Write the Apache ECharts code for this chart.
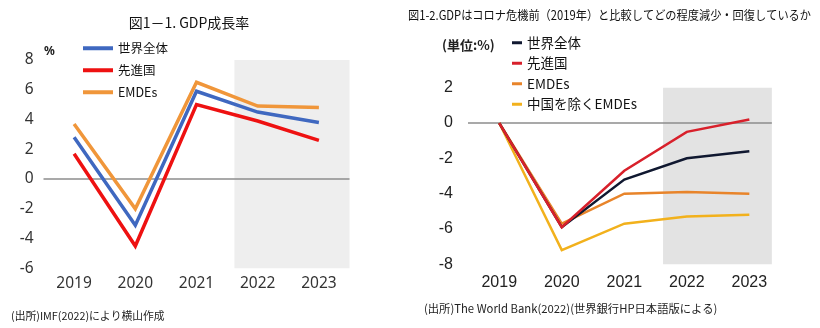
<!DOCTYPE html>
<html>
<head>
<meta charset="utf-8">
<script src="https://cdn.jsdelivr.net/npm/echarts@6/dist/echarts.min.js"></script>
<style>
  html, body { margin: 0; padding: 0; background: #fff; }
  #chart { width: 820px; height: 328px; }
</style>
</head>
<body>
<div id="chart"></div>
<script>
// ---- data ----
const years = ['2019', '2020', '2021', '2022', '2023'];

// 図1-1: GDP growth rate (%)
const growthWorld = [2.8, -3.1, 5.9, 4.5, 3.8];
const growthAdvanced = [1.7, -4.5, 5.0, 3.9, 2.6];
const growthEmdes = [3.7, -2.0, 6.5, 4.9, 4.8];

// 図1-2: GDP relative to 2019 (%)
const levelWorld = [0, -5.9, -3.2, -2.0, -1.6];
const levelAdvanced = [0, -5.9, -2.7, -0.5, 0.2];
const levelEmdes = [0, -5.7, -4.0, -3.9, -4.0];
const levelEmdesExChina = [0, -7.2, -5.7, -5.3, -5.2];

// forecast period shading, in year-index units along the x axis
const forecastStart = 2.62;
const leftForecastEnd = 4.5;
const rightForecastEnd = 4.36;

const leftNames = ['世界全体', '先進国', 'EMDEs'];
const leftColors = ['#3f68c0', '#ee1111', '#f0963a'];
const rightNames = ['世界全体', '先進国', 'EMDEs', '中国を除くEMDEs'];
const rightColors = ['#101830', '#d8202b', '#e8842a', '#f2b11c'];

const rightTitle = '図1-2.GDPはコロナ危機前（2019年）と比較してどの程度減少・回復しているか';

const chart = echarts.init(document.getElementById('chart'), null, { renderer: 'canvas' });

const latin = '"Noto Sans", "Noto Sans CJK JP", sans-serif';
const arial = '"Liberation Sans", Arial, "Noto Sans CJK JP", sans-serif';
const jp = '"Noto Sans CJK JP", sans-serif';

// horizontal squeeze so a long heading fits its column
function fitScale(text, font, targetWidth) {
  const ctx = document.createElement('canvas').getContext('2d');
  ctx.font = font;
  const w = ctx.measureText(text).width;
  return w > targetWidth ? targetWidth / w : 1;
}
const rightTitleFont = '12.5px "Noto Sans CJK JP", sans-serif';
const rightTitleScale = fitScale(rightTitle, rightTitleFont, 403);

function lineSeries(name, data, color, width, xi, yi) {
  return {
    type: 'line', name, data, xAxisIndex: xi, yAxisIndex: yi,
    symbol: 'none', lineStyle: { color, width, join: 'miter' }, itemStyle: { color },
    z: 3, silent: true, animation: false
  };
}

// helper series on the hidden value axis: forecast shade + zero line
function backdrop(xi, yi, endX, shadeColor) {
  return {
    type: 'line', name: '_bg' + xi, data: [], xAxisIndex: xi, yAxisIndex: yi,
    silent: true, animation: false,
    markArea: {
      silent: true, itemStyle: { color: shadeColor }, z: 1,
      data: [[{ xAxis: forecastStart }, { xAxis: endX }]]
    },
    markLine: {
      silent: true, symbol: 'none', z: 2, label: { show: false },
      lineStyle: { color: '#8c8c8c', width: 1.5, type: 'solid' },
      data: [[{ coord: [-0.5, 0] }, { coord: [endX, 0] }]]
    }
  };
}

const option = {
  animation: false,
  backgroundColor: '#fff',
  textStyle: { fontFamily: jp },
  title: [
    { text: '図1－1. GDP成長率', left: 184, top: 11, textAlign: 'center',
      textStyle: { fontFamily: jp, fontSize: 14, fontWeight: 'normal', color: '#111' } },
    { text: '%', left: 39, top: 41,
      textStyle: { fontFamily: latin, fontSize: 12, fontWeight: 'bold', color: '#222' } },
    { text: '(単位:%)', left: 437, top: 34,
      textStyle: { fontFamily: jp, fontSize: 13, fontWeight: 'bold', color: '#222' } },
    { text: '(出所)IMF(2022)により横山作成', left: 6, top: 306,
      textStyle: { fontFamily: jp, fontSize: 10.8, fontWeight: 'normal', color: '#222' } },
    { text: '(出所)The World Bank(2022)(世界銀行HP日本語版による)', left: 419, top: 298,
      textStyle: { fontFamily: jp, fontSize: 11.3, fontWeight: 'normal', color: '#222' } }
  ],
  graphic: [
    { type: 'text', x: 408, y: 9, scaleX: rightTitleScale, silent: true,
      style: { text: rightTitle, font: rightTitleFont, fill: '#111' } }
  ],
  legend: [
    {
      orient: 'vertical', left: 78, top: 37, itemGap: 9.5, itemWidth: 30, itemHeight: 4,
      icon: 'rect', selectedMode: false,
      textStyle: { fontFamily: jp, fontSize: 12.5, color: '#111' },
      data: leftNames.map((n, i) => ({ name: n, itemStyle: { color: leftColors[i] } }))
    },
    {
      orient: 'vertical', left: 507, top: 31, itemGap: 7, itemWidth: 10, itemHeight: 3,
      icon: 'rect', selectedMode: false,
      textStyle: { fontFamily: jp, fontSize: 13.5, color: '#111' },
      data: rightNames.map((n, i) => ({ name: n, itemStyle: { color: rightColors[i] } }))
    }
  ],
  grid: [
    { left: 43.5, top: 60, width: 306, height: 208.3, containLabel: false },
    { left: 468, top: 87.7, width: 312.6, height: 176.6, containLabel: false }
  ],
  xAxis: [
    { type: 'category', gridIndex: 0, data: years, boundaryGap: true,
      axisLine: { show: false }, axisTick: { show: false },
      axisLabel: { margin: 8, fontFamily: latin, fontSize: 15.5, color: '#333' } },
    { type: 'category', gridIndex: 1, data: years, boundaryGap: true,
      axisLine: { show: false }, axisTick: { show: false },
      axisLabel: { margin: 10, fontFamily: arial, fontSize: 16, color: '#222' } },
    { type: 'value', gridIndex: 0, min: -0.5, max: 4.5, show: false },
    { type: 'value', gridIndex: 1, min: -0.5, max: 4.5, show: false }
  ],
  yAxis: [
    { type: 'value', gridIndex: 0, min: -6, max: 8, interval: 2,
      splitLine: { show: false }, axisLine: { show: false }, axisTick: { show: false },
      axisLabel: { margin: 10, fontFamily: latin, fontSize: 15.5, color: '#333' } },
    { type: 'value', gridIndex: 1, min: -8, max: 2, interval: 2,
      splitLine: { show: false }, axisLine: { show: false }, axisTick: { show: false },
      axisLabel: { margin: 15, fontFamily: arial, fontSize: 16, color: '#222' } }
  ],
  series: [
    backdrop(2, 0, leftForecastEnd, '#eeeeee'),
    backdrop(3, 1, rightForecastEnd, '#e3e3e3'),
    lineSeries(leftNames[2], growthEmdes, leftColors[2], 3.5, 0, 0),
    lineSeries(leftNames[0], growthWorld, leftColors[0], 3.5, 0, 0),
    lineSeries(leftNames[1], growthAdvanced, leftColors[1], 3.5, 0, 0),
    lineSeries(rightNames[3], levelEmdesExChina, rightColors[3], 2.5, 1, 1),
    lineSeries(rightNames[2], levelEmdes, rightColors[2], 2.5, 1, 1),
    lineSeries(rightNames[0], levelWorld, rightColors[0], 2.5, 1, 1),
    lineSeries(rightNames[1], levelAdvanced, rightColors[1], 2.5, 1, 1)
  ]
};

chart.setOption(option);
</script>
</body>
</html>
